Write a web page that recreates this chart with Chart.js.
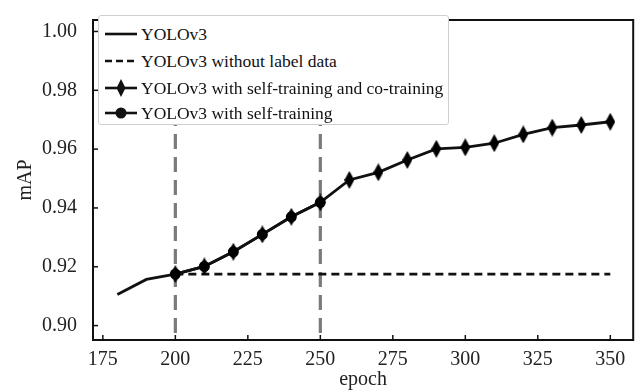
<!DOCTYPE html>
<html><head><meta charset="utf-8">
<script src="https://cdn.jsdelivr.net/npm/chart.js@4.4.1/dist/chart.umd.min.js"></script>
<style>
html,body{margin:0;padding:0;background:#fff;}
#wrap{position:relative;width:642px;height:392px;}
#legend{position:absolute;left:98px;top:15px;width:351px;height:110px;background:#fff;border:1.5px solid #cfcfcf;border-radius:3px;box-sizing:border-box;font-family:"Liberation Serif","Times New Roman",serif;font-size:17.5px;color:#111;}
.row{position:absolute;left:5px;height:24px;display:flex;align-items:center;white-space:nowrap;}
.row svg{margin-right:3px;}
</style></head>
<body><div id="wrap"><canvas id="c" width="642" height="392"></canvas>
<div id="legend">
 <div class="row" style="top:6px"><svg width="34" height="20"><line x1="1" y1="10" x2="33" y2="10" stroke="#111" stroke-width="2.6"/></svg>YOLOv3</div>
 <div class="row" style="top:33px"><svg width="34" height="20"><line x1="1" y1="10" x2="33" y2="10" stroke="#111" stroke-width="2.6" stroke-dasharray="7,4"/></svg>YOLOv3 without label data</div>
 <div class="row" style="top:60px"><svg width="34" height="20"><line x1="1" y1="10" x2="33" y2="10" stroke="#111" stroke-width="2.6"/><polygon points="17,1 21.5,10 17,19 12.5,10" fill="#111"/></svg>YOLOv3 with self-training and co-training</div>
 <div class="row" style="top:85px"><svg width="34" height="20"><line x1="1" y1="10" x2="33" y2="10" stroke="#111" stroke-width="2.6"/><circle cx="17" cy="10" r="5.5" fill="#111"/></svg>YOLOv3 with self-training</div>
</div></div>
<script>
// ---- data ----
const baseEpochs = [180, 190, 200];
const baseMAP = [0.9106, 0.9157, 0.9175];
const noLabelEpochs = [200, 350];
const noLabelMAP = [0.9175, 0.9175];
const selfEpochs = [200, 210, 220, 230, 240, 250];
const selfMAP = [0.9175, 0.9201, 0.9251, 0.9310, 0.9370, 0.9419];
const coEpochs = [200, 210, 220, 230, 240, 250, 260, 270, 280, 290, 300, 310, 320, 330, 340, 350];
const coMAP = [0.9175, 0.9201, 0.9251, 0.9310, 0.9370, 0.9419, 0.9495, 0.9521, 0.9563, 0.9601, 0.9606, 0.9620, 0.9650, 0.9673, 0.9682, 0.9693];
const markerEpochs = [200, 250];
const xTicks = [175, 200, 225, 250, 275, 300, 325, 350];
const yTicks = [0.90, 0.92, 0.94, 0.96, 0.98, 1.00];
const yMin = 0.8951, yMax = 1.0039, xMin = 171.6, xMax = 357.9;

const pts = (xs, ys) => xs.map((x, i) => ({x, y: ys[i]}));

// thin diamond marker
const dia = document.createElement('canvas');
dia.width = 10; dia.height = 18;
{ const g = dia.getContext('2d'); g.fillStyle = '#000'; g.beginPath();
  g.moveTo(5,0); g.lineTo(10,9); g.lineTo(5,18); g.lineTo(0,9); g.closePath(); g.fill(); }

const vLines = markerEpochs.map(e => ({
  data: [{x: e, y: 0.8975}, {x: e, y: yMax}],
  borderColor: '#7a7a7a', borderWidth: 3.2, borderDash: [15, 8], pointRadius: 0, order: 5
}));

const fontFam = '"Liberation Serif","Times New Roman",serif';

const frame = {
  id: 'frame',
  afterDraw(chart) {
    const {ctx, chartArea: a, scales} = chart;
    ctx.save();
    ctx.strokeStyle = '#111'; ctx.lineWidth = 2;
    ctx.strokeRect(a.left, a.top, a.right - a.left, a.bottom - a.top);
    ctx.lineWidth = 1.5;
    scales.x.ticks.forEach(t => { const p = scales.x.getPixelForValue(t.value);
      ctx.beginPath(); ctx.moveTo(p, a.bottom); ctx.lineTo(p, a.bottom - 5); ctx.stroke(); });
    scales.y.ticks.forEach(t => { const p = scales.y.getPixelForValue(t.value);
      ctx.beginPath(); ctx.moveTo(a.left, p); ctx.lineTo(a.left + 5, p); ctx.stroke(); });
    ctx.restore();
  }
};

new Chart(document.getElementById('c'), {
  type: 'line',
  data: { datasets: [
    ...vLines,
    { data: pts(noLabelEpochs, noLabelMAP), borderColor: '#111', borderWidth: 2.6, borderDash: [8, 5], pointRadius: 0, order: 3 },
    { data: pts(baseEpochs, baseMAP), borderColor: '#111', borderWidth: 2.8, pointRadius: 0, order: 2 },
    { data: pts(coEpochs, coMAP), borderColor: '#111', borderWidth: 2.8, pointStyle: dia, pointRadius: 6, order: 1 },
    { data: pts(selfEpochs, selfMAP), borderColor: '#111', borderWidth: 2.8, pointRadius: 5.5, pointBackgroundColor: '#000', pointBorderWidth: 0, order: 0 }
  ]},
  options: {
    responsive: false, animation: false,
    layout: { padding: { left: 0, top: 10, right: 7, bottom: 0 } },
    plugins: { legend: { display: false }, tooltip: { enabled: false } },
    elements: { line: { tension: 0 } },
    scales: {
      x: { type: 'linear', min: xMin, max: xMax,
        afterBuildTicks: s => { s.ticks = xTicks.map(v => ({value: v})); },
        afterFit: s => { s.height = 52; },
        grid: { display: false }, border: { display: false },
        ticks: { color: '#222', padding: 0, maxRotation: 0, font: { family: fontFam, size: 20 }, callback: v => String(v) },
        title: { display: true, text: 'epoch', color: '#222', font: { family: fontFam, size: 20 }, padding: { top: 0, bottom: 0 } }
      },
      y: { min: yMin, max: yMax,
        afterBuildTicks: s => { s.ticks = yTicks.map(v => ({value: v})); },
        afterFit: s => { s.width = 93; },
        grid: { display: false }, border: { display: false },
        ticks: { color: '#222', padding: 8, font: { family: fontFam, size: 20 }, callback: v => v.toFixed(2) },
        title: { display: true, text: 'mAP', color: '#222', font: { family: fontFam, size: 20 }, padding: { top: 14, bottom: 0 } }
      }
    }
  },
  plugins: [frame]
});
</script></body></html>
